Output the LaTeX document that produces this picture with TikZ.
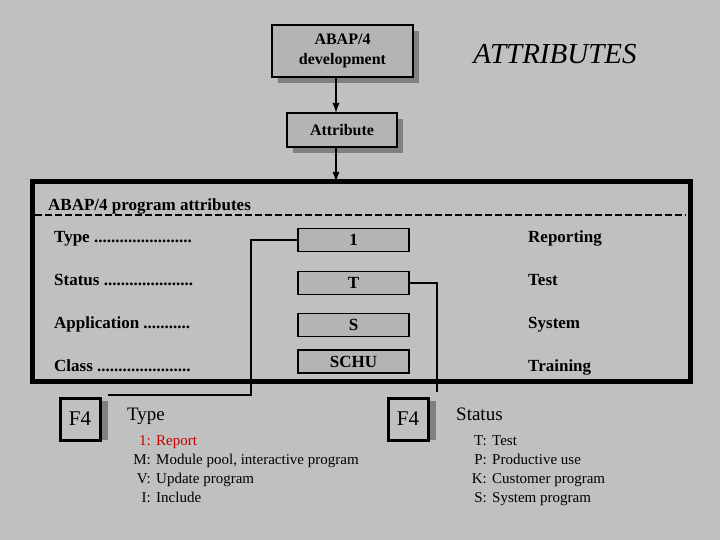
\documentclass[tikz,border=0pt]{standalone}
\usepackage{fontspec}
\setmainfont{Liberation Serif}
\usetikzlibrary{arrows.meta}
\begin{document}
\begin{tikzpicture}[x=1pt,y=-1pt,
  box/.style={draw=black,line width=1.5pt,fill=boxgray,inner sep=0pt},
  shadow/.style={fill=shadowgray},
  lbl/.style={anchor=base west,font=\fontsize{17}{19}\selectfont\bfseries,inner sep=0pt},
  lst/.style={font=\fontsize{15}{17}\selectfont,inner sep=0pt},
  arr/.style={-{Latex[length=10pt,width=7pt]},line width=1.3pt}]
\definecolor{bg}{RGB}{192,192,192}
\definecolor{boxgray}{RGB}{180,180,180}
\definecolor{shadowgray}{RGB}{128,128,128}
\definecolor{rep}{RGB}{200,0,0}
\fill[bg] (0,0) rectangle (720,540);
\useasboundingbox (0,0) rectangle (720,540);
\fill[shadow] (278,31) rectangle (419,83);
\node[box,minimum width=141pt,minimum height=52pt,align=center,font=\fontsize{16}{20}\selectfont\bfseries] (dev) at (342.5,51) {ABAP/4\\development};
\node[font=\fontsize{29}{32}\selectfont\itshape,inner sep=0pt] (attrs) at (555,54) {ATTRIBUTES};
\fill[shadow] (293,119) rectangle (403,153);
\node[box,minimum width=110pt,minimum height=34pt,font=\fontsize{16}{18}\selectfont\bfseries] (attr) at (342,130) {Attribute};
\node[draw=black,line width=5pt,minimum width=658pt,minimum height=199pt,inner sep=0pt] (frame) at (361,281.5) {};
\coordinate (a1) at (336,77); \coordinate (a2) at (336,113);
\coordinate (a3) at (336,147); \coordinate (a4) at (336,182);
\draw[arr] (a1) -- (a2);
\draw[arr] (a3) -- (a4);
\node[lbl] (title) at (48,211) {ABAP/4 program attributes};
\coordinate (dl) at (35,215); \coordinate (dr) at (686,215);
\draw[line width=1.5pt,dash pattern=on 7pt off 3pt] (dl) -- (dr);
\node[lbl] (ltype) at (54,242) {Type .......................};
\node[lbl] (lstat) at (54,285) {Status .....................};
\node[lbl] (lapp) at (54,328) {Application ...........};
\node[lbl] (lcls) at (54,371) {Class ......................};
\foreach \n/\y/\t in {v1/240/1,vT/283/T,vS/325/S} {
  \node[box,minimum width=111pt,minimum height=23pt,font=\fontsize{17}{19}\selectfont\bfseries] (\n) at (353.5,\y) {\t};}
\node[box,minimum width=111pt,minimum height=23pt,font=\fontsize{17}{19}\selectfont\bfseries] (vC) at (353.5,361.5) {SCHU};
\node[lbl] (r1) at (528,242) {Reporting};
\node[lbl] (r2) at (528,285) {Test};
\node[lbl] (r3) at (528,328) {System};
\node[lbl] (r4) at (528,371) {Training};
\fill[shadow] (102,401) rectangle (108,440);
\node[draw=black,line width=3pt,fill=bg,minimum width=40pt,minimum height=42pt,inner sep=0pt,font=\fontsize{21}{23}\selectfont] (f4a) at (80,419) {F4};
\fill[shadow] (430,401) rectangle (436,440);
\node[draw=black,line width=3pt,fill=bg,minimum width=40pt,minimum height=42pt,inner sep=0pt,font=\fontsize{21}{23}\selectfont] (f4b) at (408,419) {F4};
\coordinate (tc) at (108,395);
\draw[line width=1.5pt] (v1.west) -- (251,240) -- (251,395) -- (tc);
\coordinate (tend) at (437,392);
\draw[line width=1.5pt] (vT.east) -- (437,283) -- (tend);
\node[anchor=base west,inner sep=0pt,font=\fontsize{19}{21}\selectfont] (htype) at (127,420) {Type};
\node[anchor=base west,inner sep=0pt,font=\fontsize{19}{21}\selectfont] (hstat) at (456,420) {Status};
\foreach \k/\t/\y/\c in {1:/Report/445/rep,M:/{Module pool, interactive program}/464/black,V:/Update program/483/black,I:/Include/502/black} {
  \node[lst,anchor=base east,text=\c] at (151,\y) {\k};
  \node[lst,anchor=base west,text=\c] at (156,\y) {\t};}
\foreach \k/\t/\y in {T:/Test/445,P:/Productive use/464,K:/Customer program/483,S:/System program/502} {
  \node[lst,anchor=base east] at (487,\y) {\k};
  \node[lst,anchor=base west] at (492,\y) {\t};}
\end{tikzpicture}
\end{document}
